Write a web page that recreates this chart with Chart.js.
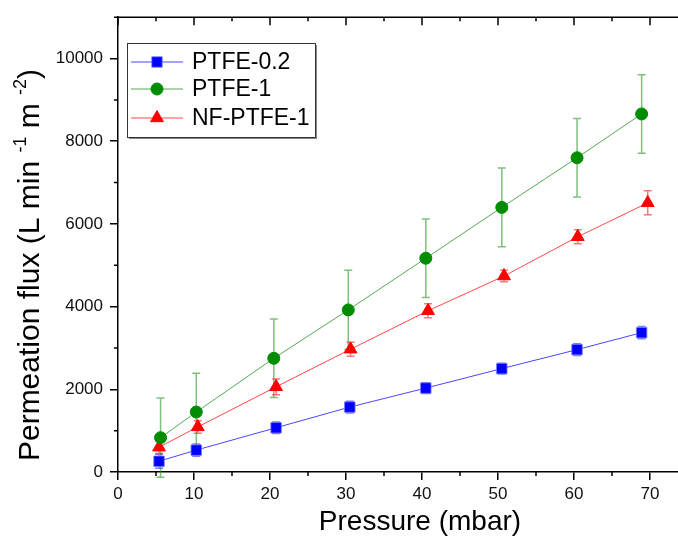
<!DOCTYPE html>
<html>
<head>
<meta charset="utf-8">
<script src="https://cdn.jsdelivr.net/npm/chart.js@4/dist/chart.umd.min.js"></script>
<style>
  html, body { margin: 0; padding: 0; background: #fff; overflow: hidden; }
  #wrap { width: 700px; height: 544px; }
</style>
</head>
<body>
<div id="wrap"><canvas id="chart" width="700" height="544"></canvas></div>
<script>
// pressure (mbar), flux (L min-1 m-2) and error for each membrane
const ptfe02Pressure = [5.4, 10.3, 20.8, 30.5, 40.5, 50.5, 60.4, 68.9];
const ptfe02Flux = [260, 530, 1070, 1570, 2030, 2500, 2960, 3370];
const ptfe02Err = [170, 150, 140, 140, 130, 130, 140, 150];

const ptfe1Pressure = [5.6, 10.3, 20.5, 30.3, 40.5, 50.5, 60.4, 68.9];
const ptfe1Flux = [830, 1450, 2750, 3920, 5170, 6400, 7600, 8660];
const ptfe1Err = [960, 940, 950, 960, 950, 950, 950, 950];

const nfPtfe1Pressure = [5.4, 10.5, 20.8, 30.6, 40.8, 50.8, 60.5, 69.7];
const nfPtfe1Flux = [600, 1090, 2060, 2970, 3900, 4740, 5690, 6510];
const nfPtfe1Err = [150, 150, 190, 170, 170, 140, 170, 290];

const seriesNames = ['PTFE-0.2', 'PTFE-1', 'NF-PTFE-1'];
const xTicks = [0, 10, 20, 30, 40, 50, 60, 70];
const yTicks = [0, 2000, 4000, 6000, 8000, 10000];

const FONT = "'Liberation Sans', Arial, sans-serif";

function points(xs, ys) {
  return xs.map((x, i) => ({ x: x, y: ys[i] }));
}

// vertical error bars with caps, drawn under the markers
const errorBars = {
  id: 'errorBars',
  beforeDatasetsDraw(chart) {
    const ctx = chart.ctx;
    const xs = chart.scales.x, ys = chart.scales.y;
    chart.data.datasets.forEach((ds) => {
      ctx.save();
      ctx.strokeStyle = ds.errorColor;
      ctx.lineWidth = 1.5;
      ds.data.forEach((p, i) => {
        const e = ds.errors[i];
        const px = xs.getPixelForValue(p.x);
        const top = ys.getPixelForValue(p.y + e);
        const bot = ys.getPixelForValue(p.y - e);
        ctx.beginPath();
        ctx.moveTo(px, top); ctx.lineTo(px, bot);
        ctx.moveTo(px - 4, top); ctx.lineTo(px + 4, top);
        ctx.moveTo(px - 4, bot); ctx.lineTo(px + 4, bot);
        ctx.stroke();
      });
      ctx.restore();
    });
  }
};

// frame, minor ticks, axis titles and the boxed legend
const decorations = {
  id: 'decorations',
  afterDraw(chart) {
    const ctx = chart.ctx;
    const a = chart.chartArea;
    const xs = chart.scales.x, ys = chart.scales.y;
    ctx.save();
    ctx.strokeStyle = '#000';
    ctx.lineWidth = 1.5;
    ctx.beginPath();
    ctx.moveTo(a.left, a.top); ctx.lineTo(a.right, a.top);
    ctx.moveTo(a.right, a.top); ctx.lineTo(a.right, a.bottom);
    // top ticks point inward
    for (let v = 0; v <= xs.max; v += 5) {
      const px = xs.getPixelForValue(v);
      const len = v % 10 === 0 ? 8 : 4;
      ctx.moveTo(px, a.top); ctx.lineTo(px, a.top + len);
      if (v % 10 !== 0) { ctx.moveTo(px, a.bottom); ctx.lineTo(px, a.bottom + 4); }
    }
    for (let v = 1000; v <= ys.max; v += 2000) {
      const py = ys.getPixelForValue(v);
      ctx.moveTo(a.left, py); ctx.lineTo(a.left - 4, py);
    }
    ctx.stroke();

    // axis titles
    ctx.fillStyle = '#000';
    ctx.font = '28px ' + FONT;
    ctx.textAlign = 'center';
    ctx.textBaseline = 'middle';
    ctx.fillText('Pressure (mbar)', 420, 522);

    ctx.save();
    ctx.translate(31, 265);
    ctx.rotate(-Math.PI / 2);
    const parts = [
      ['Permeation flux (L min ', 30, 0],
      ['-1', 18, -10],
      [' m ', 30, 0],
      ['-2', 18, -10],
      [')', 30, 0]
    ];
    let total = 0;
    parts.forEach(p => { ctx.font = p[1] + 'px ' + FONT; total += ctx.measureText(p[0]).width; });
    let cx = -total / 2;
    ctx.textAlign = 'left';
    parts.forEach(p => {
      ctx.font = p[1] + 'px ' + FONT;
      ctx.fillText(p[0], cx, p[2]);
      cx += ctx.measureText(p[0]).width;
    });
    ctx.restore();

    // legend
    const bx = 127, by = 43, bw = 188, bh = 94;
    ctx.fillStyle = '#888';
    ctx.fillRect(bx + 2, by + 2, bw, bh);
    ctx.fillStyle = '#fff';
    ctx.fillRect(bx, by, bw, bh);
    ctx.strokeStyle = '#333';
    ctx.lineWidth = 1;
    ctx.strokeRect(bx + 0.5, by + 0.5, bw, bh);
    const rows = [62, 89, 118];
    chart.data.datasets.forEach((ds, i) => {
      const y = rows[i];
      ctx.strokeStyle = ds.borderColor;
      ctx.lineWidth = 1;
      ctx.beginPath();
      ctx.moveTo(131, y); ctx.lineTo(183, y);
      ctx.stroke();
      ctx.fillStyle = ds.pointBackgroundColor;
      ctx.strokeStyle = ds.pointBorderColor;
      Chart.helpers.drawPoint(ctx, {
        pointStyle: ds.pointStyle, radius: ds.pointRadius, borderWidth: 1, rotation: 0
      }, 157, y);
      ctx.fillStyle = '#000';
      ctx.font = '23px ' + FONT;
      ctx.textAlign = 'left';
      ctx.textBaseline = 'middle';
      ctx.fillText(seriesNames[i], 192, y + 1);
    });
    ctx.restore();
  }
};

const axisFont = { family: FONT, size: 17 };

new Chart(document.getElementById('chart'), {
  type: 'line',
  data: {
    datasets: [
      {
        label: seriesNames[0],
        data: points(ptfe02Pressure, ptfe02Flux),
        errors: ptfe02Err,
        errorColor: 'rgba(40, 40, 255, 0.6)',
        borderColor: 'rgba(40, 40, 255, 0.85)',
        borderWidth: 1,
        pointStyle: 'rect',
        pointRadius: 7.4,
        pointBackgroundColor: '#0000ff',
        pointBorderColor: 'rgba(120, 120, 255, 0.8)',
        pointBorderWidth: 1,
        clip: false
      },
      {
        label: seriesNames[1],
        data: points(ptfe1Pressure, ptfe1Flux),
        errors: ptfe1Err,
        errorColor: 'rgba(40, 150, 40, 0.6)',
        borderColor: 'rgba(40, 150, 40, 0.8)',
        borderWidth: 1,
        pointStyle: 'circle',
        pointRadius: 6,
        pointBackgroundColor: '#008c00',
        pointBorderColor: '#008c00',
        pointBorderWidth: 1,
        clip: false
      },
      {
        label: seriesNames[2],
        data: points(nfPtfe1Pressure, nfPtfe1Flux),
        errors: nfPtfe1Err,
        errorColor: 'rgba(255, 30, 30, 0.6)',
        borderColor: 'rgba(255, 40, 40, 0.85)',
        borderWidth: 1,
        pointStyle: 'triangle',
        pointRadius: 7.4,
        pointBackgroundColor: '#ff0000',
        pointBorderColor: '#ff0000',
        pointBorderWidth: 1,
        clip: false
      }
    ]
  },
  options: {
    responsive: false,
    animation: false,
    devicePixelRatio: 1,
    layout: { padding: { left: 0, top: 12, right: 12, bottom: 0 } },
    plugins: { legend: { display: false }, tooltip: { enabled: false } },
    elements: { line: { tension: 0 } },
    scales: {
      x: {
        type: 'linear',
        min: 0,
        max: 75,
        afterFit: s => { s.height = 72; },
        afterBuildTicks: s => { s.ticks = xTicks.map(v => ({ value: v })); },
        grid: { drawOnChartArea: false, color: '#000', lineWidth: 1.5, tickLength: 8 },
        border: { color: '#000', width: 1.5 },
        ticks: { font: axisFont, color: '#111', padding: 4, maxRotation: 0, callback: v => String(v) }
      },
      y: {
        type: 'linear',
        min: 0,
        max: 11000,
        afterFit: s => { s.width = 118; },
        afterBuildTicks: s => { s.ticks = yTicks.map(v => ({ value: v })); },
        grid: { drawOnChartArea: false, color: '#000', lineWidth: 1.5, tickLength: 8 },
        border: { color: '#000', width: 1.5 },
        ticks: { font: axisFont, color: '#111', padding: 7, callback: v => String(v) }
      }
    }
  },
  plugins: [errorBars, decorations]
});
</script>
</body>
</html>
